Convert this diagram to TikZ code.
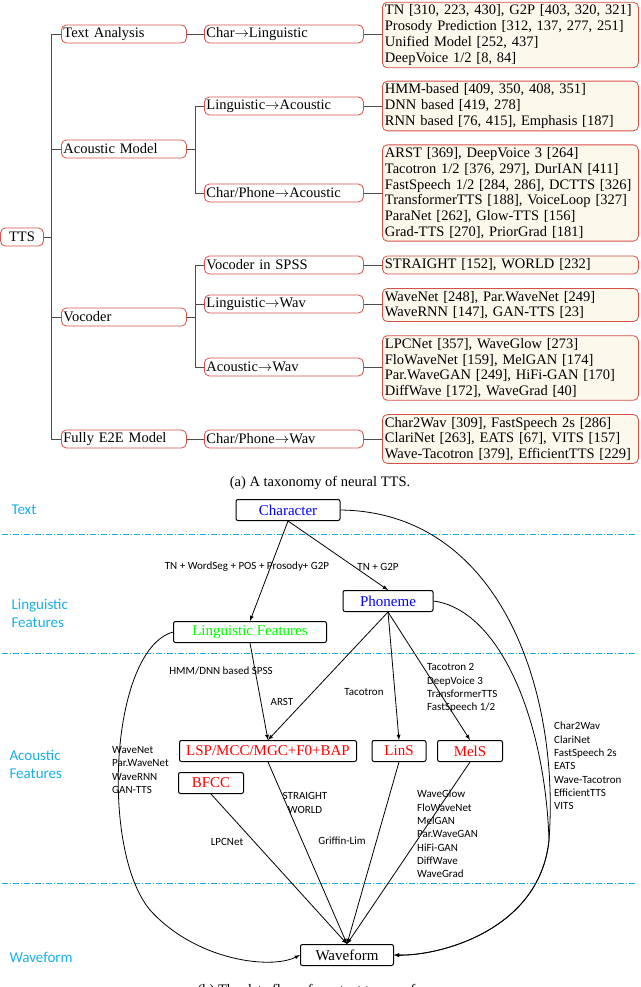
\documentclass[tikz,border=0pt]{standalone}
\usepackage{fontspec}
\setmainfont{Liberation Serif}
\newfontfamily\lab{Carlito}
\usepackage{tikz}
\usetikzlibrary{arrows}
\definecolor{boxred}{RGB}{214,80,74}
\definecolor{boxfill}{RGB}{253,248,236}
\definecolor{layercyan}{RGB}{25,175,230}
\begin{document}
\begin{tikzpicture}[x=1pt, y=-1pt, font=\fontsize{14.5}{15.8}\selectfont]
\tikzstyle{cat} = [rectangle, rounded corners=5pt, draw=boxred, line width=0.8pt, minimum height=18pt, inner sep=2pt, align=left]
\tikzstyle{lvl1} = [cat, text width=121pt, anchor=west]
\tikzstyle{lvl2} = [cat, text width=155pt, anchor=west]
\tikzstyle{work} = [cat, fill=boxfill, text width=251pt, inner sep=2.5pt, anchor=west]
\tikzstyle{branch} = [draw=black!70, line width=0.8pt]
\tikzstyle{flow} = [rectangle, rounded corners=2pt, draw=black, line width=1pt, minimum height=21pt, font=\fontsize{15}{16}\selectfont]
\tikzstyle{layer} = [draw=layercyan, line width=0.8pt, dash pattern=on 6pt off 2pt on 1pt off 2pt]
\tikzstyle{ltxt} = [text=layercyan, font=\lab\fontsize{15}{18}\selectfont, align=left, anchor=west]
\tikzstyle{note} = [font=\lab\fontsize{11}{13.3}\selectfont, align=left, inner sep=1pt]
\useasboundingbox (0,0) rectangle (640,987);

% taxonomy
\node (tts) [cat, minimum width=43pt, align=center] at (22,237) {TTS};
\node (ta)  [lvl1] at (61,34)  {Text Analysis};
\node (am)  [lvl1] at (61,149) {Acoustic Model};
\node (vo)  [lvl1] at (61,317) {Vocoder};
\node (e2e) [lvl1] at (61,439) {Fully E2E Model};
\node (cl)  [lvl2] at (204,34)  {Char$\rightarrow$Linguistic};
\node (la)  [lvl2] at (204,106) {Linguistic$\rightarrow$Acoustic};
\node (ca)  [lvl2] at (204,193) {Char/Phone$\rightarrow$Acoustic};
\node (vs)  [lvl2] at (204,265) {Vocoder in SPSS};
\node (lw)  [lvl2] at (204,304) {Linguistic$\rightarrow$Wav};
\node (aw)  [lvl2] at (204,367) {Acoustic$\rightarrow$Wav};
\node (cw)  [lvl2] at (204,439) {Char/Phone$\rightarrow$Wav};
\node (w1) [work] at (382,35)  {TN [310, 223, 430], G2P [403, 320, 321]\\Prosody Prediction [312, 137, 277, 251]\\Unified Model [252, 437]\\DeepVoice 1/2 [8, 84]};
\node (w2) [work] at (382,106) {HMM-based [409, 350, 408, 351]\\DNN based [419, 278]\\RNN based [76, 415], Emphasis [187]};
\node (w3) [work] at (382,193) {ARST [369], DeepVoice 3 [264]\\Tacotron 1/2 [376, 297], DurIAN [411]\\FastSpeech 1/2 [284, 286], DCTTS [326]\\TransformerTTS [188], VoiceLoop [327]\\ParaNet [262], Glow-TTS [156]\\Grad-TTS [270], PriorGrad [181]};
\node (w4) [work] at (382,265) {STRAIGHT [152], WORLD [232]};
\node (w5) [work] at (382,305) {WaveNet [248], Par.WaveNet [249]\\WaveRNN [147], GAN-TTS [23]};
\node (w6) [work] at (382,368) {LPCNet [357], WaveGlow [273]\\FloWaveNet [159], MelGAN [174]\\Par.WaveGAN [249], HiFi-GAN [170]\\DiffWave [172], WaveGrad [40]};
\node (w7) [work] at (382,439) {Char2Wav [309], FastSpeech 2s [286]\\ClariNet [263], EATS [67], VITS [157]\\Wave-Tacotron [379], EfficientTTS [229]};

\coordinate (sp) at (51,237);
\coordinate (sa) at (195,149);
\coordinate (sv) at (195,317);
\draw [branch] (tts.east) -- (sp);
\draw [branch] (ta.west) -| (sp |- e2e.west) -- (e2e.west);
\foreach \n in {am, vo} \draw [branch] (sp |- \n.west) -- (\n.west);
\draw [branch] (ta) -- (cl);
\draw [branch] (e2e) -- (cw);
\draw [branch] (am.east) -- (sa);
\draw [branch] (la.west) -| (sa |- ca.west) -- (ca.west);
\draw [branch] (vo.east) -- (sv);
\draw [branch] (vs.west) -| (sv |- aw.west) -- (aw.west);
\draw [branch] (sv |- lw.west) -- (lw.west);
\draw [branch] (cl.east) -- (w1.west |- cl.east);
\draw [branch] (la.east) -- (w2.west |- la.east);
\draw [branch] (ca.east) -- (w3.west |- ca.east);
\draw [branch] (vs.east) -- (w4.west |- vs.east);
\draw [branch] (lw.east) -- (w5.west |- lw.east);
\draw [branch] (aw.east) -- (w6.west |- aw.east);
\draw [branch] (cw.east) -- (w7.west |- cw.east);
\node (capa) at (320,483) {(a) A taxonomy of neural TTS.};

% data flow
\draw [layer] (2,534) -- (637,534);
\draw [layer] (2,653) -- (637,653);
\draw [layer] (2,883) -- (637,883);
\node [ltxt] at (8,510) {Text};
\node [ltxt] at (8,613) {Linguistic\\Features};
\node [ltxt] at (6,764) {Acoustic\\Features};
\node [ltxt] at (6,957) {Waveform};

\node (char)  [flow, minimum width=104pt, text=blue] at (288,510) {Character};
\node (phon)  [flow, minimum width=90pt, text=blue] at (388,601) {Phoneme};
\node (lfeat) [flow, minimum width=153pt, text=green] at (250,632) {Linguistic Features};
\node (lsp)   [flow, minimum width=177pt, text=red] at (268,751) {LSP/MCC/MGC+F0+BAP};
\node (lins)  [flow, minimum width=54pt, text=red] at (399,751) {LinS};
\node (mels)  [flow, minimum width=65pt, text=red] at (470,751) {MelS};
\node (bfcc)  [flow, minimum width=65pt, text=red] at (211,783) {BFCC};
\node (wave)  [flow, minimum width=93pt] at (347,955) {Waveform};

\draw [-latex, line width=0.8pt] (char.south) -- (lfeat.north);
\draw [-latex, line width=0.8pt] (char.south) -- (phon.north);
\draw [-latex, line width=0.8pt] (lfeat.south) -- (lsp.north);
\draw [-latex, line width=0.8pt] (phon.south) -- (lsp.north);
\draw [-latex, line width=0.8pt] (phon.south) -- (lins.north);
\draw [-latex, line width=0.8pt] (phon.south) -- (mels.north);
\draw [-latex, line width=0.8pt] (lsp.south) -- (wave.north);
\draw [-latex, line width=0.8pt] (bfcc.south) -- (wave.north);
\draw [-latex, line width=0.8pt] (lins.south) -- (wave.north);
\draw [-latex, line width=0.8pt] (mels.south) -- (wave.north);
\draw [-latex, line width=0.8pt] (char.east) .. controls (500,512) and (560,690) .. (549,840) .. controls (540,930) and (440,956) .. (wave.east);
\draw [-latex, line width=0.8pt] (phon.east) .. controls (500,610) and (545,720) .. (549,840) .. controls (540,930) and (440,956) .. (wave.east);
\draw [-latex, line width=0.8pt] (lfeat.west) .. controls (110,650) and (100,850) .. (150,910) .. controls (195,960) and (270,970) .. (wave.west);

\node (n1) [note] at (247,567) {TN + WordSeg + POS + Prosody+ G2P};
\node (n2) [note] at (378,567) {TN + G2P};
\node (n3) [note] at (221,671) {HMM/DNN based SPSS};
\node (n4) [note] at (282,702) {ARST};
\node (n5) [note] at (364,692) {Tacotron};
\node (n6) [note, anchor=west] at (426,688) {Tacotron 2\\DeepVoice 3\\TransformerTTS\\FastSpeech 1/2};
\node (n7) [note, anchor=west] at (111,770) {WaveNet\\Par.WaveNet\\WaveRNN\\GAN-TTS};
\node (n8) [note, anchor=west] at (553,766) {Char2Wav\\ClariNet\\FastSpeech 2s\\EATS\\Wave-Tacotron\\EfficientTTS\\VITS};
\node (n9) [note, align=center] at (305,803) {STRAIGHT\\WORLD};
\node (n10) [note] at (227,842) {LPCNet};
\node (n11) [note] at (342,841) {Griffin-Lim};
\node (n12) [note, anchor=west] at (416,834) {WaveGlow\\FloWaveNet\\MelGAN\\Par.WaveGAN\\HiFi-GAN\\DiffWave\\WaveGrad};
\node (capb) at (320,991) {(b) The data flows from text to waveform.};
\end{tikzpicture}
\end{document}
